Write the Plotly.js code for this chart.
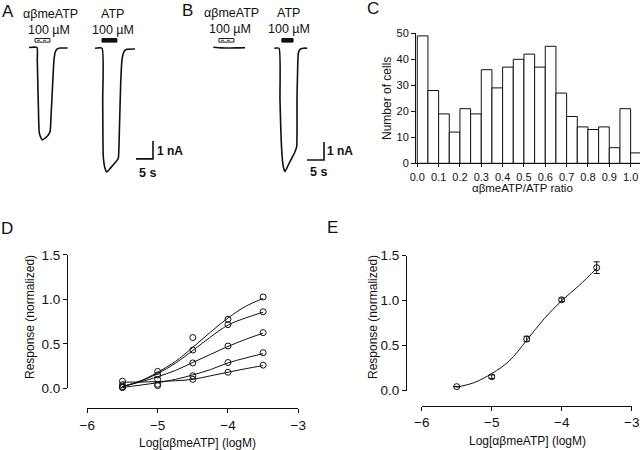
<!DOCTYPE html>
<html>
<head>
<meta charset="utf-8">
<script src="https://cdn.plot.ly/plotly-3.0.1.min.js"></script>
<style>html,body{margin:0;padding:0;background:#fff;}#chart{width:640px;height:450px;}</style>
</head>
<body>
<div id="chart"></div>
<script>
// ---------- Panels A & B: current traces (time in s, current in nA) ----------
const tA1 = [8.53,10.88,10.97,11.38,11.56,12.06,12.44,13.74,14.71,15.0,15.5,15.88,16.26,16.85,17.65,19.9];
const iA1 = [0,0,-0.69,-4.03,-4.75,-5.03,-5.14,-4.96,-4.68,-3.86,-1.97,-0.69,-0.25,-0.08,-0.03,-0.03];
const tA2 = [27.94,30.0,30.21,30.38,30.88,31.38,32.85,34.32,34.79,35.09,35.5,35.88,36.47,37.26,39.71];
const iA2 = [-0.04,-0.04,-2.92,-6.07,-6.71,-6.92,-6.62,-6.29,-6.16,-4.75,-1.97,-0.69,-0.23,-0.1,-0.08];
const tB1 = [62.74,65.0,67.35,70.0,72.06];
const iB1 = [0.01,-0.02,-0.03,-0.02,-0.01];
const tB2 = [80.68,82.06,82.35,82.85,83.32,83.82,84.79,85.79,86.76,87.26,87.35,87.56,87.74,88.24,89.21,90.38];
const iB2 = [-0.04,-0.04,-2.92,-5.69,-6.62,-6.9,-6.53,-6.16,-5.79,-5.51,-2.92,-1.07,-0.32,-0.1,-0.04,-0.04];
const appStart = [10.3, 30.0, 64.4, 82.9];
const appEnd   = [14.7, 34.4, 68.8, 86.2];
const appAgonist = ['αβmeATP', 'ATP', 'αβmeATP', 'ATP'];
const agonistConc = ['100 µM', '100 µM', '100 µM', '100 µM'];

// ---------- Panel C: histogram ----------
const ratioBin = [0.025,0.075,0.125,0.175,0.225,0.275,0.325,0.375,0.425,0.475,0.525,0.575,0.625,0.675,0.725,0.775,0.825,0.875,0.925,0.975,1.025];
const cellCount = [49,28,19,12,21,19,36,29,37,40,42,37,45,27,18,14,13,14,6,21,4];
const ratioTicks = [0,0.1,0.2,0.3,0.4,0.5,0.6,0.7,0.8,0.9,1.0];

// ---------- Panel D: concentration-response, 5 cells ----------
const logConc = [-5.5, -5, -4.5, -4, -3.5];
const respD1 = [0.01, 0.19, 0.57, 0.775, 1.026];
const respD2 = [0.04, 0.15, 0.43, 0.715, 0.86];
const respD3 = [0.02, 0.10, 0.285, 0.475, 0.625];
const respD4 = [0.01, 0.045, 0.14, 0.29, 0.40];
const respD5 = [0.08, 0.03, 0.10, 0.18, 0.26];
const fitX = [-5.5,-5.25,-5,-4.75,-4.5,-4.25,-4,-3.75,-3.5];
const fitD1 = [0.02,0.08,0.18,0.30,0.46,0.63,0.79,0.92,1.01];
const fitD2 = [0.02,0.08,0.165,0.28,0.425,0.575,0.71,0.79,0.855];
const fitD3 = [0.02,0.07,0.13,0.20,0.29,0.38,0.47,0.55,0.62];
const fitD4 = [0.01,0.035,0.063,0.10,0.15,0.21,0.285,0.34,0.39];
const fitD5 = [0.07,0.07,0.075,0.085,0.10,0.14,0.18,0.22,0.255];

// ---------- Panel E: mean concentration-response ----------
const respE = [0.045, 0.155, 0.575, 1.01, 1.367];
const errE  = [0.0, 0.02, 0.03, 0.02, 0.065];
const fitE  = [0.04,0.09,0.19,0.33,0.56,0.80,1.00,1.17,1.36];

const respTicks = [0, 0.5, 1.0, 1.5];
const logTicks = [-6, -5, -4, -3];

// ---------- helpers (layout only) ----------
const W = 640, H = 450;
const px = v => v / W;
const py = v => 1 - v / H;
const FONT = "'Liberation Sans', Arial, Helvetica, sans-serif";

const traces = [];
// A/B traces
[[tA1,iA1],[tA2,iA2],[tB1,iB1],[tB2,iB2]].forEach(([t,i]) => {
  traces.push({x: t, y: i, xaxis: 'x', yaxis: 'y', type: 'scatter', mode: 'lines',
    line: {color: '#111', width: 1.6, shape: 'spline', smoothing: 0.5}, hoverinfo: 'skip', showlegend: false});
});
// C histogram
traces.push({x: ratioBin, y: cellCount, type: 'bar', width: 0.05, xaxis: 'x2', yaxis: 'y2',
  marker: {color: '#fff', line: {color: '#111', width: 1}}, showlegend: false});
// D
[fitD1, fitD2, fitD3, fitD4, fitD5].forEach(f => traces.push({x: fitX, y: f, xaxis: 'x3', yaxis: 'y3',
  type: 'scatter', mode: 'lines', line: {color: '#111', width: 1, shape: 'spline'}, showlegend: false, cliponaxis: false}));
[respD1, respD2, respD3, respD4, respD5].forEach(r => traces.push({x: logConc, y: r, xaxis: 'x3', yaxis: 'y3',
  type: 'scatter', mode: 'markers', marker: {symbol: 'circle-open', size: 6, color: '#111', line: {width: 1}},
  showlegend: false, cliponaxis: false}));
// E
traces.push({x: fitX, y: fitE, xaxis: 'x4', yaxis: 'y4', type: 'scatter', mode: 'lines',
  line: {color: '#111', width: 1, shape: 'spline'}, showlegend: false, cliponaxis: false});
traces.push({x: logConc, y: respE, xaxis: 'x4', yaxis: 'y4', type: 'scatter', mode: 'markers',
  marker: {symbol: 'circle-open', size: 6, color: '#111', line: {width: 1}},
  error_y: {type: 'data', array: errE, visible: true, color: '#111', thickness: 1, width: 3},
  showlegend: false, cliponaxis: false});

const axBase = {showgrid: false, zeroline: false, showline: true, linecolor: '#111', linewidth: 1,
  ticks: 'outside', ticklen: 4, tickwidth: 1, tickcolor: '#111', fixedrange: true};

const shapes = [];
const annotations = [];
// application bars
appStart.forEach((s, k) => {
  if (appAgonist[k] === 'ATP') {
    shapes.push({type: 'rect', xref: 'x', yref: 'y', x0: s, x1: appEnd[k], y0: 0.30, y1: 0.50,
      fillcolor: '#111', line: {color: '#111', width: 1}});
  } else {
    shapes.push({type: 'rect', xref: 'x', yref: 'y', x0: s, x1: appEnd[k], y0: 0.30, y1: 0.50,
      fillcolor: '#fff', line: {color: '#222', width: 1}});
    shapes.push({type: 'line', xref: 'x', yref: 'y', x0: s + 0.6, x1: appEnd[k] - 0.6, y0: 0.40, y1: 0.40,
      line: {color: '#444', width: 1, dash: 'dot'}});
  }
});
// scale bars: 5 s x 1 nA
[[40, -6.19], [90.3, -6.25]].forEach(([x0, y0]) => {
  shapes.push({type: 'path', xref: 'x', yref: 'y',
    path: `M ${x0} ${y0} L ${x0 + 5} ${y0} L ${x0 + 5} ${y0 + 1}`, line: {color: '#111', width: 1.6}});
});

function ann(text, x, y, size, opts) {
  annotations.push(Object.assign({text: text, xref: 'paper', yref: 'paper', x: px(x), y: py(y),
    xanchor: 'center', yanchor: 'middle', showarrow: false,
    font: {family: FONT, size: size, color: '#111'}}, opts || {}));
}
// panel letters
ann('A', 8, 12, 17); ann('B', 187, 10, 17); ann('C', 373, 8, 17);
ann('D', 7, 229, 17); ann('E', 332, 227, 17);
// drug labels
ann(appAgonist[0], 50, 14, 12.5); ann(agonistConc[0], 49, 30, 12.5);
ann(appAgonist[1], 112, 14, 12.5); ann(agonistConc[1], 113, 30, 12.5);
ann(appAgonist[2], 231, 13, 12.5); ann(agonistConc[2], 230, 29, 12.5);
ann(appAgonist[3], 288, 13, 12.5); ann(agonistConc[3], 289, 29, 12.5);
// scale bar labels
ann('<b>1 nA</b>', 155, 151, 12, {xanchor: 'left'}); ann('<b>5 s</b>', 137, 173, 12.5, {xanchor: 'left'});
ann('<b>1 nA</b>', 325, 151, 12, {xanchor: 'left'}); ann('<b>5 s</b>', 308, 172, 12.5, {xanchor: 'left'});
// axis titles
ann('αβmeATP/ATP ratio', 522, 188, 11.5);
ann('Number of cells', 387, 99, 12, {textangle: -90});
ann('Log[αβmeATP] (logM)', 197, 443, 12);
ann('Response (normalized)', 30, 317, 12, {textangle: -90});
ann('Log[αβmeATP] (logM)', 527, 441, 12);
ann('Response (normalized)', 373, 317, 12, {textangle: -90});

const layout = {
  width: W, height: H, margin: {l: 0, r: 0, t: 0, b: 0}, paper_bgcolor: '#fff', plot_bgcolor: 'rgba(0,0,0,0)',
  font: {family: FONT, color: '#111'}, showlegend: false, bargap: 0,
  xaxis: {domain: [0, px(340)], range: [0, 100], visible: false, fixedrange: true},
  yaxis: {domain: [py(190), 1], range: [-7.92, 2.64], visible: false, fixedrange: true},
  xaxis2: Object.assign({}, axBase, {domain: [px(416), 1], range: [-0.006, 1.044], anchor: 'y2',
    tickvals: ratioTicks, tickformat: '.1f', ticklen: 3, tickfont: {family: FONT, size: 11, color: '#111'}}),
  yaxis2: Object.assign({}, axBase, {domain: [py(163.3), py(33.3)], range: [0, 50], anchor: 'x2',
    dtick: 10, ticklen: 4, tickfont: {family: FONT, size: 11, color: '#111'}}),
  xaxis3: Object.assign({}, axBase, {domain: [px(87.3), px(298.3)], range: [-6, -3], anchor: 'free',
    position: py(408.3), tickvals: logTicks, tickfont: {family: FONT, size: 13.5, color: '#111'}}),
  yaxis3: Object.assign({}, axBase, {domain: [py(388.3), py(254.8)], range: [0, 1.5], anchor: 'free',
    position: px(67), tickvals: respTicks, tickformat: '.1f', tickfont: {family: FONT, size: 13.5, color: '#111'}}),
  xaxis4: Object.assign({}, axBase, {domain: [px(421.7), px(631.7)], range: [-6, -3], anchor: 'free',
    position: py(406), tickvals: logTicks, tickfont: {family: FONT, size: 13.5, color: '#111'}}),
  yaxis4: Object.assign({}, axBase, {domain: [py(390.7), py(255.7)], range: [0, 1.5], anchor: 'free',
    position: px(406), tickvals: respTicks, tickformat: '.1f', tickfont: {family: FONT, size: 13.5, color: '#111'}}),
  shapes: shapes, annotations: annotations
};

Plotly.newPlot('chart', traces, layout, {staticPlot: true, displayModeBar: false});
</script>
</body>
</html>
